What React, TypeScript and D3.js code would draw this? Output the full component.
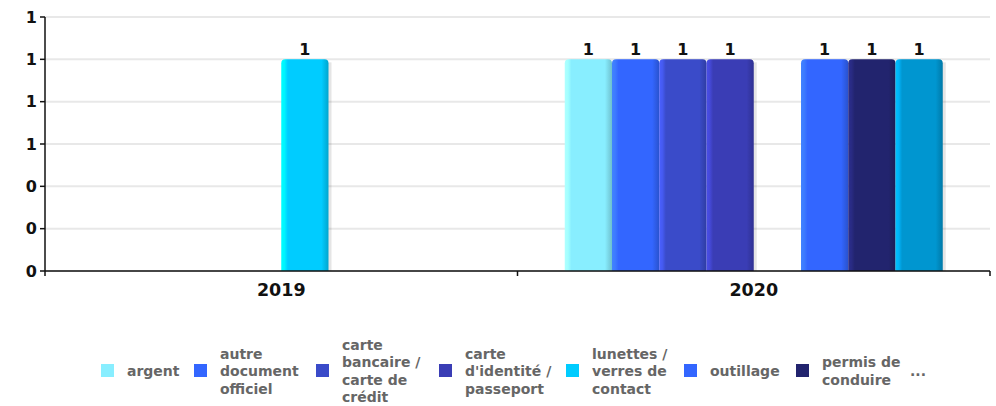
import React from "react";
import * as d3 from "d3";

const categories = ["2019", "2020"];
const seriesNames = [
  "argent",
  "autre document officiel",
  "carte bancaire / carte de crédit",
  "carte d'identité / passeport",
  "lunettes / verres de contact",
  "outillage",
  "permis de conduire",
  "autre",
];
const seriesColors = ["#88eeff", "#3366ff", "#3a4bc9", "#3a3db5", "#00ccff", "#3366ff", "#22246e", "#0096d0"];
const values2019 = [0, 0, 0, 0, 1, 0, 0, 0];
const values2020 = [1, 1, 1, 1, 0, 1, 1, 1];
const yTicks = [0, 0.2, 0.4, 0.6, 0.8, 1.0, 1.2];
const legendLines = [
  ["argent"],
  ["autre", "document", "officiel"],
  ["carte", "bancaire /", "carte de", "crédit"],
  ["carte", "d'identité /", "passeport"],
  ["lunettes /", "verres de", "contact"],
  ["outillage"],
  ["permis de", "conduire"],
];

// layout (not data)
const W = 996, H = 406;
const M = { left: 45, right: 990, top: 17, bottom: 271 };
const legendX = [101, 194, 316, 439, 566, 684, 796];
const legendY = 371;

export default function App() {
  const values = [values2019, values2020];
  const x0 = d3.scaleBand().domain(categories).range([M.left, M.right]).padding(0);
  const x1 = d3.scaleBand().domain(seriesNames).range([0, x0.bandwidth()]).paddingInner(0).paddingOuter(1);
  const y = d3.scaleLinear().domain([0, 1.2]).range([M.bottom, M.top]);
  const fmt = d3.format(".0f");
  const font = "'DejaVu Sans', sans-serif";

  const barPath = (x: number, yTop: number, w: number, yBot: number, r: number) =>
    `M${x},${yBot}V${yTop + r}Q${x},${yTop} ${x + r},${yTop}H${x + w - r}Q${x + w},${yTop} ${x + w},${yTop + r}V${yBot}Z`;

  return (
    <svg width={W} height={H} style={{ position: "absolute", left: 0, top: 0, background: "#fff" }}>
      <defs>
        {seriesColors.map((c, i) => {
          const base = d3.color(c)!;
          return (
            <linearGradient key={i} id={`g${i}`} x1="0" x2="1" y1="0" y2="0">
              <stop offset="0" stopColor={base.brighter(0.7).formatHex()} />
              <stop offset="0.07" stopColor={base.brighter(0.5).formatHex()} />
              <stop offset="0.14" stopColor={c} />
              <stop offset="0.85" stopColor={c} />
              <stop offset="1" stopColor={base.darker(0.6).formatHex()} />
            </linearGradient>
          );
        })}
      </defs>
      {yTicks.map((t, i) => (
        <line key={i} x1={M.left} x2={M.right} y1={y(t)} y2={y(t)} stroke="#e8e8e8" strokeWidth={2} />
      ))}
      {categories.map((cat, ci) =>
        seriesNames.map((s, si) => {
          const v = values[ci][si];
          if (!v) return null;
          const bx = (x0(cat) as number) + (x1(s) as number);
          const bw = x1.bandwidth();
          const top = y(v);
          return (
            <g key={`${ci}-${si}`}>
              <rect x={bx + bw - 1} y={top + 3} width={4} height={M.bottom - top - 3} fill="#000" opacity={0.1} />
              <path d={barPath(bx, top, bw, M.bottom, 4)} fill={`url(#g${si})`} />
              <text x={bx + bw / 2} y={top - 4} textAnchor="middle" fontFamily={font} fontWeight="bold" fontSize={16} fill="#111">
                {fmt(v)}
              </text>
            </g>
          );
        })
      )}
      {/* axes */}
      <line x1={M.left} x2={M.left} y1={M.top} y2={M.bottom} stroke="#111" strokeWidth={1.5} />
      <line x1={M.left} x2={M.right} y1={M.bottom} y2={M.bottom} stroke="#111" strokeWidth={1.5} />
      {yTicks.map((t, i) => (
        <g key={i}>
          <line x1={M.left - 5} x2={M.left} y1={y(t)} y2={y(t)} stroke="#111" strokeWidth={1.5} />
          <text x={M.left - 8} y={y(t)} dy="0.36em" textAnchor="end" fontFamily={font} fontWeight="bold" fontSize={16} fill="#111">
            {fmt(t)}
          </text>
        </g>
      ))}
      {[...categories.map((c) => x0(c) as number), M.right].map((xx, i) => (
        <line key={i} x1={xx} x2={xx} y1={M.bottom} y2={M.bottom + 5} stroke="#111" strokeWidth={1.5} />
      ))}
      {categories.map((c) => (
        <text key={c} x={(x0(c) as number) + x0.bandwidth() / 2} y={296} textAnchor="middle" fontFamily={font} fontWeight="bold" fontSize={17.5} fill="#111">
          {c}
        </text>
      ))}
      {/* legend */}
      {legendLines.map((lines, i) => {
        const lx = legendX[i];
        const lh = 17.5;
        const y0 = legendY - ((lines.length - 1) * lh) / 2;
        return (
          <g key={i}>
            <rect x={lx} y={legendY - 7} width={13} height={13} fill={seriesColors[i]} />
            {lines.map((ln, j) => (
              <text key={j} x={lx + 26} y={y0 + j * lh} dy="0.36em" fontFamily={font} fontWeight="bold" fontSize={14} fill="#666">
                {ln}
              </text>
            ))}
          </g>
        );
      })}
      <text x={910} y={legendY} dy="0.36em" fontFamily={font} fontWeight="bold" fontSize={14} fill="#666">
        ...
      </text>
    </svg>
  );
}
